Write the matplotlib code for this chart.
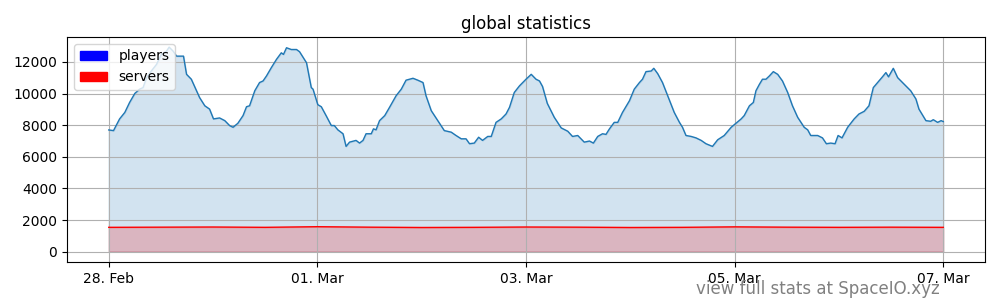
import matplotlib
matplotlib.use("Agg")
import matplotlib.pyplot as plt
import matplotlib.dates as mdates
import matplotlib.ticker as mticker
import numpy as np
from matplotlib.patches import Patch

START = np.datetime64("2020-02-28T00:00")

# players: (hours since start, count)
player_hours = [
    0, 1.1, 2.5, 3.7, 4.8, 6.0, 7.1, 7.9, 8.7, 9.8, 11.0, 12.1, 13.3, 13.9, 14.8,
    15.6, 17.2, 17.9, 19.0, 20.2, 20.9, 22.1, 23.2, 24.1, 25.5, 26.7, 27.8, 28.6,
    29.7, 30.9, 31.7, 32.4, 33.6, 34.7, 35.5, 36.3, 37.4, 38.6, 39.7, 40.2, 40.9,
    42.0, 43.2, 43.9, 45.5, 46.6, 47.0, 48.1, 48.9, 50.0, 51.2, 51.9, 52.7, 53.9,
    54.6, 55.4, 56.9, 57.7, 58.5, 59.2, 60.4, 60.9, 61.5, 62.3, 63.5, 64.6, 66.1,
    67.3, 68.4, 70.0, 71.1, 72.3, 73.0, 74.2, 75.7, 77.2, 78.8, 79.9, 81.1, 82.2,
    83.0, 84.1, 85.1, 86.0, 87.2, 88.0, 89.1, 90.3, 91.4, 92.2, 93.3, 94.5, 96.0,
    97.2, 98.3, 99.1, 99.8, 100.9, 102.5, 104.1, 105.6, 106.7, 107.9, 109.4, 110.6,
    111.5, 112.5, 113.6, 114.4, 115.2, 116.3, 117.1, 118.2, 119.8, 120.9, 122.1,
    122.8, 123.6, 124.8, 125.4, 126.3, 127.4, 128.6, 130.1, 131.3, 132.0, 132.8,
    134.0, 135.1, 136.3, 137.4, 138.9, 140.1, 141.6, 143.2, 144.3, 145.5, 146.2,
    147.4, 148.3, 148.9, 149.7, 150.4, 151.2, 152.0, 152.9, 153.9, 155.0, 156.2,
    157.3, 158.5, 160.0, 160.8, 161.5, 163.1, 164.2, 165.1, 166.1, 167.1, 167.8,
    168.7, 170.0, 171.5, 172.6, 173.8, 174.9, 175.9, 176.9, 178.0, 178.8, 179.4,
    180.5, 181.5, 183.0, 184.5, 185.7, 186.4, 188.0, 189.1, 189.7, 190.7, 191.5,
    192.0,
]
players = [
    7700, 7660, 8400, 8810, 9440, 10010, 10280, 10380, 11010, 11430, 11850, 12480,
    12690, 12940, 12690, 12370, 12370, 11220, 10910, 10180, 9750, 9230, 9020, 8400,
    8460, 8290, 7980, 7870, 8120, 8610, 9170, 9230, 10180, 10700, 10800, 11120,
    11640, 12170, 12580, 12480, 12900, 12790, 12790, 12650, 11950, 10380, 10280,
    9300, 9170, 8610, 7980, 7980, 7710, 7460, 6660, 6930, 7040, 6870, 7040, 7460,
    7460, 7770, 7710, 8290, 8610, 9130, 9860, 10280, 10850, 10970, 10850, 10700,
    9860, 8920, 8290, 7660, 7560, 7350, 7140, 7140, 6830, 6870, 7240, 7040, 7290,
    7290, 8180, 8400, 8710, 9130, 10070, 10490, 10910, 11220, 10910, 10800, 10450,
    9380, 8500, 7830, 7620, 7290, 7350, 6930, 7000, 6870, 7290, 7460, 7420, 7770,
    8180, 8180, 8810, 9550, 10280, 10700, 10910, 11390, 11430, 11600, 11260, 10700,
    9860, 8810, 8180, 7870, 7350, 7290, 7200, 7040, 6830, 6660, 7080, 7350, 7870,
    8120, 8400, 8610, 9230, 9440, 10180, 10590, 10910, 10910, 11120, 11390, 11220,
    10800, 10070, 9230, 8500, 7870, 7710, 7350, 7350, 7200, 6830, 6870, 6830, 7350,
    7200, 7870, 8400, 8710, 8880, 9230, 10380, 10700, 11060, 11330, 11060, 11600,
    11010, 10590, 10180, 9660, 9020, 8290, 8250, 8350, 8180, 8290, 8230,
]

# servers: sampled every 12 hours
server_hours = [0, 12, 24, 36, 48, 60, 72, 84, 96, 108, 120, 132, 144, 156, 168, 180, 192]
servers = [1540, 1550, 1560, 1540, 1580, 1550, 1530, 1540, 1560, 1550, 1530, 1540,
           1570, 1550, 1540, 1550, 1540]

tick_days = ["2020-02-28", "2020-03-01", "2020-03-03", "2020-03-05", "2020-03-07"]


def to_dates(hours):
    return START + (np.array(hours) * 60).round().astype("timedelta64[m]")


def main():
    tp = to_dates(player_hours).astype("datetime64[ms]").astype(object)
    ts = to_dates(server_hours).astype("datetime64[ms]").astype(object)

    fig = plt.figure(figsize=(10, 3), dpi=100)
    ax = fig.add_axes([0.067, 0.127, 0.918, 0.75])

    ax.plot(tp, players, color="C0", lw=1)
    ax.fill_between(tp, players, color="C0", alpha=0.2)
    ax.plot(ts, servers, color="red", lw=1)
    ax.fill_between(ts, servers, color="red", alpha=0.2)

    ax.xaxis.set_major_locator(mticker.FixedLocator(
        mdates.date2num(np.array(tick_days, dtype="datetime64[D]"))))
    ax.xaxis.set_major_formatter(mdates.DateFormatter("%d. %b"))
    ax.grid(True)
    ax.set_title("global statistics")
    ax.legend(handles=[Patch(color="blue", label="players"),
                       Patch(color="red", label="servers")], loc="upper left")

    fig.text(0.94, 0.005, "view full stats at SpaceIO.xyz", color="gray",
             fontsize=12, ha="right", va="bottom")
    fig.savefig("out.png", dpi=100)
    plt.close(fig)


if __name__ == "__main__":
    main()
